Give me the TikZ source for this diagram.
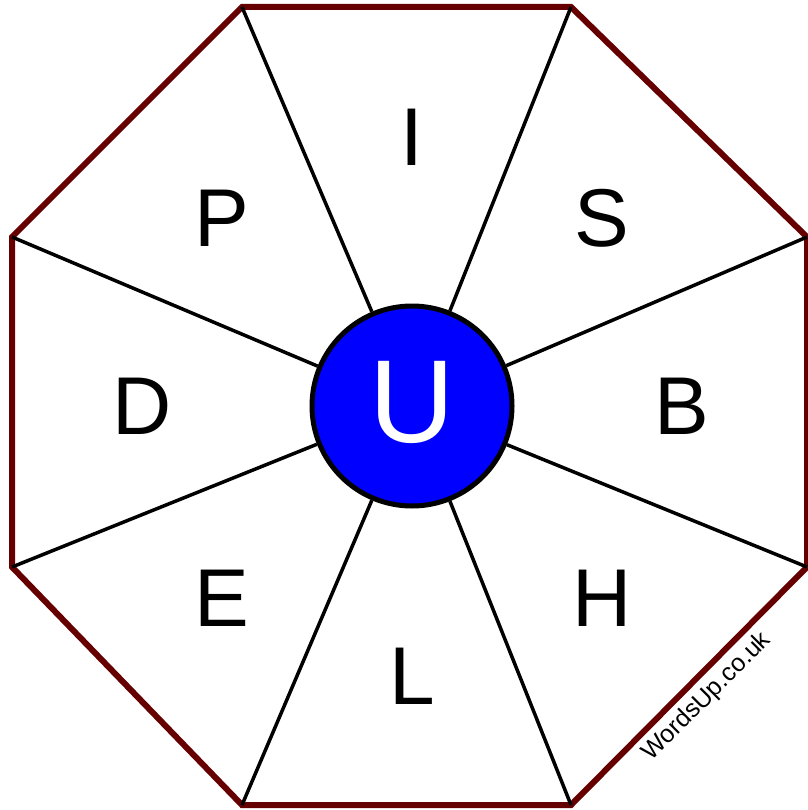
\documentclass[tikz,border=0pt]{standalone}
\usepackage{fontspec}
\setmainfont{Liberation Sans}
\definecolor{rim}{RGB}{102,0,0}
\definecolor{hub}{RGB}{0,0,255}
\tikzset{
  rimline/.style={draw=rim,line width=6pt},
  spoke/.style={draw=black,line width=3.5pt},
  letter/.style={font=\fontsize{82}{82}\selectfont,inner sep=0pt},
  hubnode/.style={circle,fill=hub,draw=black,line width=5pt,minimum size=200pt,inner sep=0pt}
}
\begin{document}
\begin{tikzpicture}[x=1pt,y=-1pt]
\useasboundingbox (0,0) rectangle (807,810);
\coordinate (v1) at (242,7);
\coordinate (v2) at (571,7);
\coordinate (v3) at (807,237);
\coordinate (v4) at (807,567);
\coordinate (v5) at (571,805);
\coordinate (v6) at (242,805);
\coordinate (v7) at (12,567);
\coordinate (v8) at (12,237);
\path[rimline] (v1) -- (v2) -- (v3) -- (v4) -- (v5) -- (v6) -- (v7) -- (v8) -- cycle;
\node[hubnode] (c) at (412,406) {};
\foreach \v in {v1,v2,v3,v4,v5,v6,v7,v8} \path[spoke] (c) -- (\v);
\node[text=white,font=\fontsize{118}{118}\selectfont,inner sep=0pt] (u) at (412,402) {U};
\node[letter] (li) at (412,137) {I};
\node[letter] (lp) at (222,218) {P};
\node[letter] (ls) at (602,218) {S};
\node[letter] (ld) at (142,406) {D};
\node[letter] (lb) at (682,406) {B};
\node[letter] (le) at (222,598) {E};
\node[letter] (lh) at (602,598) {H};
\node[letter] (ll) at (412,676) {L};
\node[font=\fontsize{25}{25}\selectfont,rotate=45,inner sep=0pt] (wm) at (707,697) {WordsUp.co.uk};
\end{tikzpicture}
\end{document}
